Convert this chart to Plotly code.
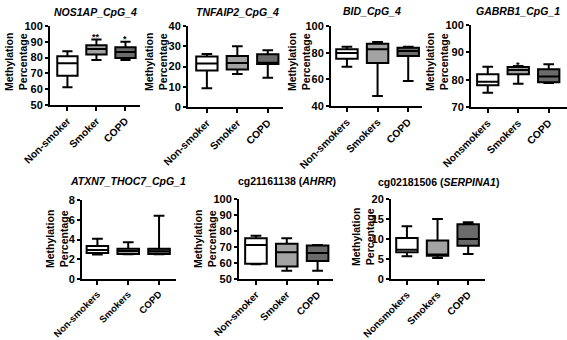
import plotly.graph_objects as go

W, H = 567, 340

# ---------------- data ----------------
titles = [
    "<b><i>NOS1AP_CpG_4</i></b>",
    "<b><i>TNFAIP2_CpG_4</i></b>",
    "<b><i>BID_CpG_4</i></b>",
    "<b><i>GABRB1_CpG_1</i></b>",
    "<b><i>ATXN7_THOC7_CpG_1</i></b>",
    "<b>cg21161138 (<i>AHRR</i>)</b>",
    "<b>cg02181506 (<i>SERPINA1</i>)</b>",
]
cats_a = ["Non-smoker", "Smoker", "COPD"]
cats_b = ["Non-smokers", "Smokers", "COPD"]
cats_c = ["Nonsmokers", "Smokers", "COPD"]
panel_cats = [cats_a, cats_a, cats_b, cats_c, cats_b, cats_a, cats_c]

# per panel: [non-smoker, smoker, copd] each (min, q1, median, q3, max)
nos1ap_min = [61.3, 78.5, 78.5]
nos1ap_q1 = [68.5, 82.0, 79.8]
nos1ap_med = [76.4, 85.5, 83.6]
nos1ap_q3 = [80.8, 87.8, 86.5]
nos1ap_max = [84.0, 91.5, 90.0]

tnfaip2_min = [9.3, 16.3, 14.5]
tnfaip2_q1 = [18.0, 18.5, 21.2]
tnfaip2_med = [21.5, 21.7, 21.9]
tnfaip2_q3 = [25.0, 25.2, 26.0]
tnfaip2_max = [26.2, 30.0, 28.0]

bid_min = [69.5, 47.5, 58.7]
bid_q1 = [75.5, 72.2, 77.5]
bid_med = [79.7, 82.5, 81.2]
bid_q3 = [82.5, 86.7, 83.7]
bid_max = [84.5, 88.0, 84.5]

gabrb1_min = [75.2, 78.5, 78.8]
gabrb1_q1 = [78.0, 82.0, 79.1]
gabrb1_med = [79.2, 83.5, 81.2]
gabrb1_q3 = [82.0, 84.6, 83.8]
gabrb1_max = [84.7, 85.0, 85.6]

atxn7_min = [2.47, 2.50, 2.50]
atxn7_q1 = [2.63, 2.53, 2.53]
atxn7_med = [2.93, 2.83, 2.80]
atxn7_q3 = [3.33, 3.07, 3.07]
atxn7_max = [4.07, 3.73, 6.40]

ahrr_min = [59.2, 55.2, 55.2]
ahrr_q1 = [59.6, 57.8, 61.3]
ahrr_med = [71.3, 66.7, 66.3]
ahrr_q3 = [75.5, 72.1, 70.9]
ahrr_max = [77.0, 75.4, 71.3]

serpina1_min = [5.7, 5.25, 6.25]
serpina1_q1 = [6.7, 5.8, 8.3]
serpina1_med = [7.3, 6.1, 10.0]
serpina1_q3 = [10.25, 9.6, 13.7]
serpina1_max = [13.2, 15.0, 14.2]

panel_stats = [
    (nos1ap_min, nos1ap_q1, nos1ap_med, nos1ap_q3, nos1ap_max),
    (tnfaip2_min, tnfaip2_q1, tnfaip2_med, tnfaip2_q3, tnfaip2_max),
    (bid_min, bid_q1, bid_med, bid_q3, bid_max),
    (gabrb1_min, gabrb1_q1, gabrb1_med, gabrb1_q3, gabrb1_max),
    (atxn7_min, atxn7_q1, atxn7_med, atxn7_q3, atxn7_max),
    (ahrr_min, ahrr_q1, ahrr_med, ahrr_q3, ahrr_max),
    (serpina1_min, serpina1_q1, serpina1_med, serpina1_q3, serpina1_max),
]
y_ranges = [(50, 100), (0, 40), (40, 100), (70, 100), (0, 8), (50, 100), (0, 20)]
y_dticks = [10, 10, 20, 10, 2, 10, 5]

# significance marks: (panel, category index, text, y value)
sig_panel = [0, 0, 3]
sig_cat = [1, 2, 1]
sig_text = ["**", "*", "*"]
sig_y = [97.6, 96.4, 88.0]

# ---------------- layout (pixels) ----------------
# plot areas: x0, x1, y_top, y_bottom
areas = [
    (50, 140, 26, 105),
    (188, 283, 26, 107),
    (331, 422, 26, 106),
    (471, 567, 25, 107),
    (82, 176, 200, 279),
    (239, 333, 199, 279),
    (391, 485, 199, 279),
]
x_ranges = [(-0.6, 2.5), (-0.62, 2.5), (-0.52, 2.45), (-0.55, 2.6),
            (-0.5, 2.55), (-0.55, 2.5), (-0.52, 2.55)]
xtick_sizes = [10.3, 10.3, 10.3, 10.3, 9.5, 10, 10]
title_pos = [(95, 12), (237, 12), (372, 11), (518, 11), (128, 181), (287, 181), (438, 182)]
ytitle_pos = [(16, 62), (156, 62), (299, 62), (437, 62), (57, 239), (205, 239), (363, 237)]

fills = ["#ffffff", "#a3a3a3", "#6b6b6b"]
FONT = "Arial, Liberation Sans, Helvetica, sans-serif"

fig = go.Figure()
annotations = []
layout = {}

for p in range(7):
    ax = "" if p == 0 else str(p + 1)
    xa, ya = "x" + ax, "y" + ax
    x0, x1, yt, yb = areas[p]
    mn, q1, md, q3, mx = panel_stats[p]
    for i in range(3):
        fig.add_trace(go.Box(
            x=[i], q1=[q1[i]], median=[md[i]], q3=[q3[i]],
            lowerfence=[mn[i]], upperfence=[mx[i]],
            width=0.7, whiskerwidth=0.5, fillcolor=fills[i],
            line=dict(color="black", width=2), boxpoints=False,
            showlegend=False, hoverinfo="skip", xaxis=xa, yaxis=ya,
        ))
    layout["xaxis" + ax] = dict(
        domain=[x0 / W, x1 / W], anchor=ya, range=list(x_ranges[p]),
        tickmode="array", tickvals=[0, 1, 2], ticktext=panel_cats[p],
        tickangle=-45, ticks="outside", ticklen=4, tickwidth=2, tickcolor="black",
        showline=True, linecolor="black", linewidth=2, showgrid=False, zeroline=False,
        automargin=False,
        tickfont=dict(family=FONT, size=xtick_sizes[p], color="black", weight="bold"),
    )
    layout["yaxis" + ax] = dict(
        domain=[1 - yb / H, 1 - yt / H], anchor=xa, range=list(y_ranges[p]),
        dtick=y_dticks[p], tick0=0, ticks="outside", ticklen=3, tickwidth=2, tickcolor="black",
        showline=True, linecolor="black", linewidth=2, showgrid=False, zeroline=False,
        automargin=False,
        tickfont=dict(family=FONT, size=11, color="black", weight="bold"),
    )
    tx, ty = title_pos[p]
    annotations.append(dict(
        text=titles[p], x=tx / W, y=1 - ty / H, xref="paper", yref="paper",
        showarrow=False, xanchor="center", yanchor="middle",
        font=dict(family=FONT, size=10.5, color="black"),
    ))
    yx, yy = ytitle_pos[p]
    annotations.append(dict(
        text="<b>Methylation<br>Percentage</b>", x=yx / W, y=1 - yy / H,
        xref="paper", yref="paper", showarrow=False, textangle=-90,
        xanchor="center", yanchor="middle",
        font=dict(family=FONT, size=10.5, color="black"),
    ))

for k in range(len(sig_panel)):
    p = sig_panel[k]
    ax = "" if p == 0 else str(p + 1)
    annotations.append(dict(
        text="<b>" + sig_text[k] + "</b>", x=sig_cat[k], y=sig_y[k],
        xref="x" + ax, yref="y" + ax, showarrow=False,
        xanchor="center", yanchor="top",
        font=dict(family=FONT, size=9, color="black"),
    ))

fig.update_layout(
    width=W, height=H, autosize=False,
    margin=dict(l=0, r=0, t=0, b=0, autoexpand=False),
    paper_bgcolor="white", plot_bgcolor="white",
    annotations=annotations, **layout,
)

fig.write_html(
    "out.html",
    config={"displayModeBar": False},
    post_script="document.body.style.margin='0';document.body.style.overflow='hidden';",
)
